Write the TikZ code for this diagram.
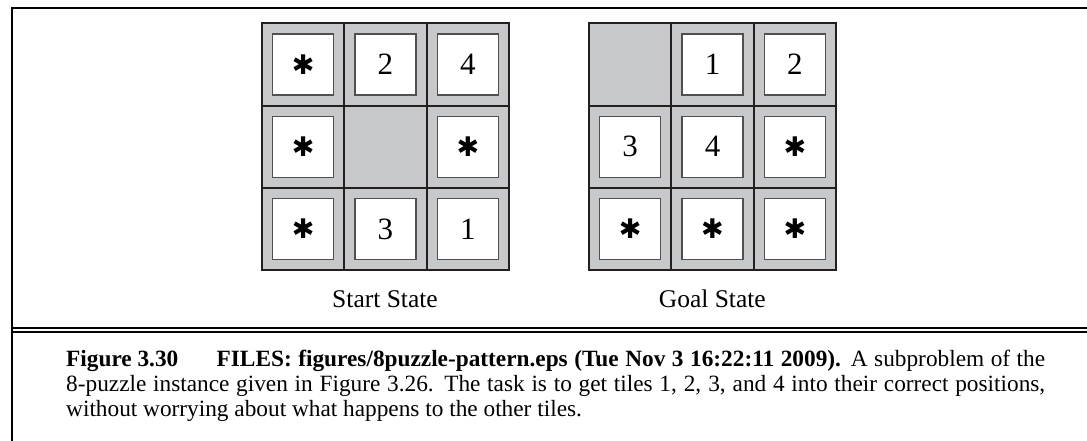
\documentclass[tikz,border=0pt]{standalone}
\usepackage{fontspec}
\setmainfont{Liberation Serif}
\newfontfamily\symfont{DejaVu Sans Bold}
\definecolor{cellgray}{RGB}{199,200,202}
\definecolor{gridline}{RGB}{35,31,32}
\definecolor{tileline}{RGB}{80,80,80}
\tikzset{
  frameline/.style={line width=1.8pt, black},
  gridstroke/.style={draw=gridline, line width=2pt},
  tilebox/.style={draw=tileline, line width=1.1pt, fill=white, minimum size=61pt, inner sep=0pt, font=\fontsize{31}{34}\selectfont},
  star/.style={tilebox, font=\symfont\fontsize{27}{30}\selectfont},
  statelabel/.style={anchor=base, inner sep=0pt, font=\fontsize{25.5}{28}\selectfont},
  captext/.style={anchor=base west, inner sep=0pt, text width=979pt, align=justify, font=\fontsize{23.3}{24.8}\selectfont}
}
\begin{document}
\begin{tikzpicture}[x=1pt,y=-1pt]
\useasboundingbox (0,0) rectangle (1087,441);
% frame
\coordinate (tl) at (12.3,7.7);
\coordinate (tr) at (1087,7.7);
\coordinate (bl) at (12.3,441);
\draw[frameline] (tr) -- (tl) -- (bl);
\coordinate (d1l) at (12.3,327.7);
\coordinate (d1r) at (1087,327.7);
\coordinate (d2l) at (12.3,331.9);
\coordinate (d2r) at (1087,331.9);
\draw[frameline] (d1l) -- (d1r);
\draw[frameline] (d2l) -- (d2r);
% grids
\def\cs{82.33}
\foreach \gx in {262,589}{
  \fill[cellgray] (\gx,23.3) rectangle ++(3*\cs,3*\cs);
}
\newcommand{\tileat}[4]{%
  \path (#1+#2*\cs+0.5*\cs, 23.3+#3*\cs+0.5*\cs) coordinate (#4);}
\foreach \c in {0,1,2}{\foreach \r in {0,1,2}{
  \tileat{262}{\c}{\r}{s\c\r}
  \tileat{589}{\c}{\r}{g\c\r}
}}
\node[star] (S00) at (s00) {✱};
\node[tilebox] (S10) at (s10) {2};
\node[tilebox] (S20) at (s20) {4};
\node[star] (S01) at (s01) {✱};
\node[star] (S21) at (s21) {✱};
\node[star] (S02) at (s02) {✱};
\node[tilebox] (S12) at (s12) {3};
\node[tilebox] (S22) at (s22) {1};
\node[tilebox] (G10) at (g10) {1};
\node[tilebox] (G20) at (g20) {2};
\node[tilebox] (G01) at (g01) {3};
\node[tilebox] (G11) at (g11) {4};
\node[star] (G21) at (g21) {✱};
\node[star] (G02) at (g02) {✱};
\node[star] (G12) at (g12) {✱};
\node[star] (G22) at (g22) {✱};
% grid lines
\foreach \gx in {262,589}{
  \draw[gridstroke] (\gx,23.3) rectangle ++(3*\cs,3*\cs);
  \draw[gridstroke] (\gx+\cs,23.3) -- ++(0,3*\cs);
  \draw[gridstroke] (\gx+2*\cs,23.3) -- ++(0,3*\cs);
  \draw[gridstroke] (\gx,23.3+\cs) -- ++(3*\cs,0);
  \draw[gridstroke] (\gx,23.3+2*\cs) -- ++(3*\cs,0);
}
\node[statelabel] (startlbl) at (385,307.3) {Start State};
\node[statelabel] (goallbl) at (712.3,307.3) {Goal State};
\node[captext] (cap) at (66,366.7) {\makebox[150.5pt][l]{\textbf{Figure 3.30}}\textbf{FILES: figures/8puzzle-pattern.eps (Tue Nov 3 16:22:11 2009).} A subproblem of the\linebreak 8-puzzle instance given in Figure 3.26. The task is to get tiles 1, 2, 3, and 4 into their correct positions,\linebreak without worrying about what happens to the other tiles.};
\end{tikzpicture}
\end{document}
